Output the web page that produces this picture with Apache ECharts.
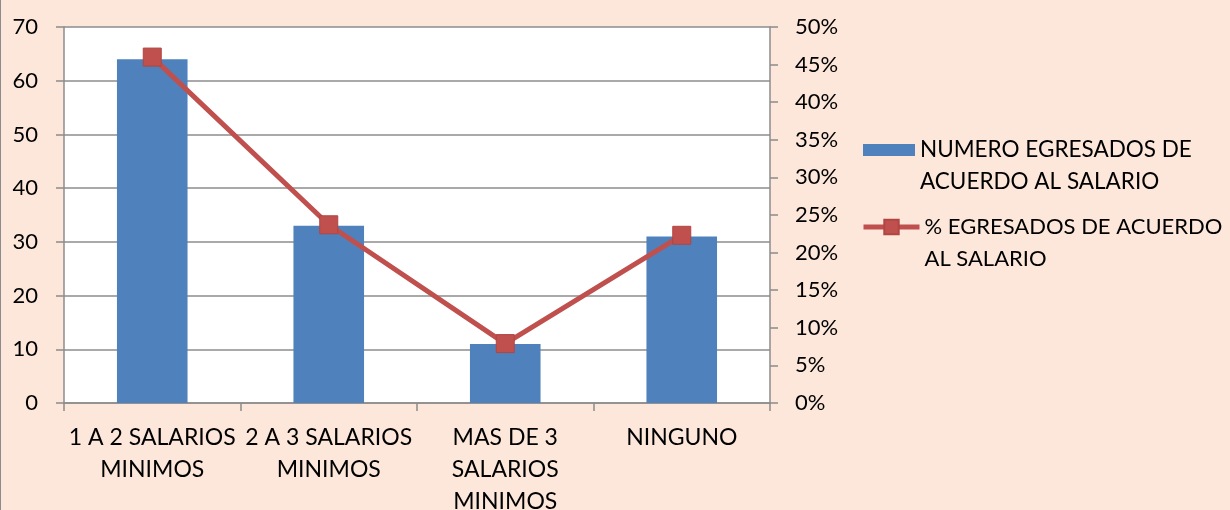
<!DOCTYPE html>
<html>
<head>
<meta charset="utf-8">
<script src="https://cdn.jsdelivr.net/npm/echarts@6/dist/echarts.min.js"></script>
<style>
html,body{margin:0;padding:0;background:#FCE7DA;overflow:hidden;width:1230px;height:510px;}
#c{width:1230px;height:510px;box-sizing:border-box;border-left:1.5px solid #8C8C8C;}
</style>
</head>
<body>
<div id="c"></div>
<script>
var categories = ["1 A 2 SALARIOS\nMINIMOS", "2 A 3 SALARIOS\nMINIMOS", "MAS DE 3\nSALARIOS\nMINIMOS", "NINGUNO"];
var egresados = [64, 33, 11, 31];
var porcentaje = [0.46, 0.237, 0.079, 0.223];
var leftTicks = {min: 0, max: 70, interval: 10};
var rightTicks = {min: 0, max: 0.5, interval: 0.05};
var barName = "NUMERO EGRESADOS DE ACUERDO AL SALARIO";
var lineName = "% EGRESADOS DE ACUERDO AL SALARIO";
var legendText = {};
legendText[barName] = "NUMERO EGRESADOS DE\nACUERDO AL SALARIO";
legendText[lineName] = "% EGRESADOS DE ACUERDO\nAL SALARIO";

var FONT = "Lato";
var FS = 23;
var FSN = 22;
var GRID = "#8C8C8C";
var RED = "#C0504D";
var chart = echarts.init(document.getElementById('c'), null, {renderer: 'canvas'});
chart.setOption({
  backgroundColor: 'transparent',
  animation: false,
  textStyle: {fontFamily: FONT},
  grid: {left: 63, top: 27, width: 706, height: 376, containLabel: false, outerBoundsMode: 'none',
         show: true, backgroundColor: '#FFFFFF', borderWidth: 0},
  legend: [{
    orient: 'vertical', left: 862, top: 102, padding: 0,
    itemWidth: 52, itemHeight: 12,
    icon: 'rect',
    data: [barName],
    formatter: function(n){return ' \n' + legendText[n];},
    textStyle: {fontFamily: FONT, fontSize: 22.5, color: '#000', lineHeight: 32}
  },{
    orient: 'vertical', left: 860, top: 179, padding: 0,
    itemWidth: 56, itemHeight: 18,
    data: [{name: lineName, lineStyle: {width: 5, color: RED}}],
    formatter: function(n){return ' \n' + legendText[n];},
    textStyle: {fontFamily: FONT, fontSize: 22, color: '#000', lineHeight: 32}
  }],
  xAxis: {
    type: 'category', data: categories,
    axisLine: {lineStyle: {color: GRID, width: 1.5}},
    axisTick: {show: true, length: 8, alignWithLabel: false, lineStyle: {color: GRID, width: 1.5}},
    axisLabel: {color: '#000', fontSize: FS, fontFamily: FONT, margin: 19, lineHeight: 32, interval: 0}
  },
  yAxis: [{
    type: 'value', min: leftTicks.min, max: leftTicks.max, interval: leftTicks.interval,
    axisLine: {show: true, lineStyle: {color: GRID, width: 1.5}},
    axisTick: {show: true, length: 8, lineStyle: {color: GRID, width: 1.5}},
    splitLine: {show: true, lineStyle: {color: GRID, width: 1.5}},
    axisLabel: {color: '#000', fontSize: FSN, fontFamily: FONT, margin: 26}
  },{
    type: 'value', min: rightTicks.min, max: rightTicks.max, interval: rightTicks.interval,
    axisLine: {show: true, lineStyle: {color: GRID, width: 1.5}},
    axisTick: {show: true, length: 8, lineStyle: {color: GRID, width: 1.5}},
    splitLine: {show: false},
    axisLabel: {color: '#000', fontSize: FSN, fontFamily: FONT, margin: 25,
      formatter: function(v){return Math.round(v*100) + '%';}}
  }],
  series: [{
    name: barName, type: 'bar', data: egresados, yAxisIndex: 0,
    barWidth: '40%',
    itemStyle: {color: '#4F81BD'}
  },{
    name: lineName, type: 'line', data: porcentaje, yAxisIndex: 1,
    symbol: 'rect', symbolSize: 18,
    lineStyle: {color: RED, width: 5},
    itemStyle: {color: RED, borderColor: '#B04542', borderWidth: 1}
  }]
});
</script>
</body>
</html>
